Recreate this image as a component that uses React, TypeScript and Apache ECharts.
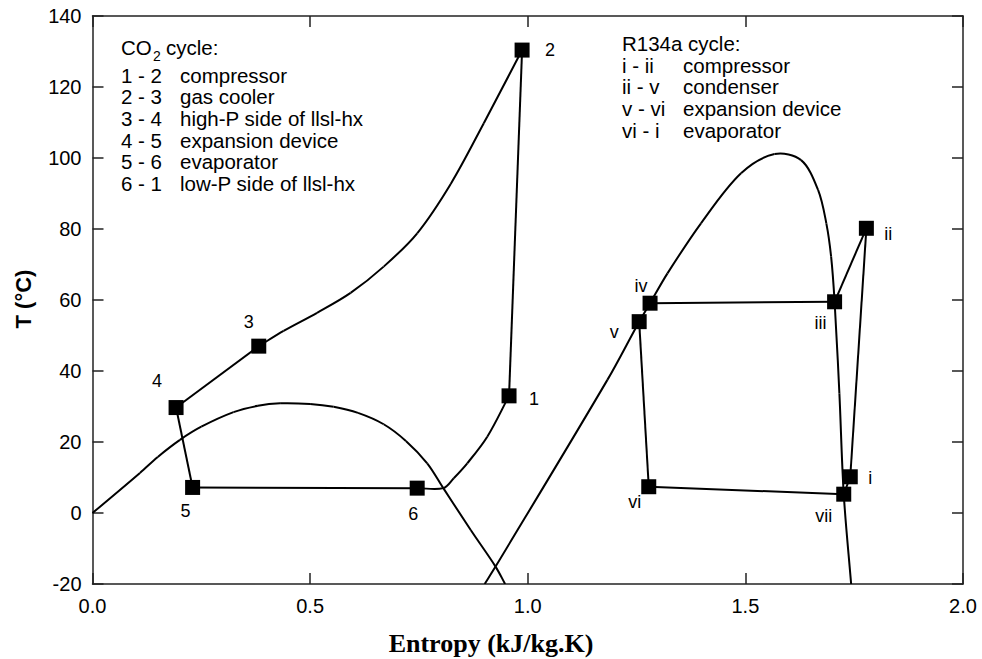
import React, { useEffect, useRef } from "react";
import * as echarts from "echarts";

// ---------- data (entropy kJ/kg.K, temperature °C) ----------
const xTicks = [0, 0.5, 1.0, 1.5, 2.0];
const yTicks = [-20, 0, 20, 40, 60, 80, 100, 120, 140];

// CO2 saturation dome
const co2Dome: number[][] = [
  [0, 0], [0.109, 11.3], [0.15, 15.8], [0.201, 20.6], [0.25, 24.3], [0.324, 28.4], [0.38, 30.2],
  [0.431, 30.9], [0.5, 30.7], [0.554, 29.9], [0.61, 28.2], [0.669, 25.0], [0.72, 20.3],
  [0.769, 14.0], [0.806, 7.0], [0.869, -4.8], [0.926, -15.1], [0.948, -20],
];
// CO2 cycle paths
const co2GasCooler: number[][] = [
  [0.987, 130.4], [0.899, 109.8], [0.823, 92.7], [0.746, 78.8], [0.669, 69.4],
  [0.593, 62.0], [0.516, 56.4], [0.439, 51.3], [0.382, 47.0],
];
const co2HighPHx: number[][] = [[0.382, 47.0], [0.192, 29.7]];
const co2Expansion: number[][] = [[0.192, 29.7], [0.230, 7.2]];
const co2Evaporator: number[][] = [[0.230, 7.2], [0.746, 7.0]];
const co2LowPHx: number[][] = [
  [0.746, 7.0], [0.806, 7.0], [0.830, 9.8], [0.861, 14.0], [0.907, 21.5], [0.957, 33.0],
];
const co2Compressor: number[][] = [[0.957, 33.0], [0.987, 130.4]];

const co2PointNames = ["1", "2", "3", "4", "5", "6"];
const co2PointS = [0.957, 0.987, 0.382, 0.192, 0.230, 0.746];
const co2PointT = [33.0, 130.4, 47.0, 29.7, 7.2, 7.0];

// R134a saturation dome
const r134aDome: number[][] = [
  [0.901, -20], [0.926, -15.1], [1.183, 37.5], [1.256, 53.9], [1.281, 59.1], [1.321, 67.5],
  [1.398, 81.6], [1.490, 95.7], [1.567, 101.1], [1.628, 99.4], [1.667, 91.0], [1.686, 81.6],
  [1.697, 72.2], [1.705, 59.5], [1.716, 33.7], [1.726, 5.3], [1.743, -20],
];
// R134a cycle paths
const r134aDesuper: number[][] = [[1.705, 59.5], [1.778, 80.2]];
const r134aCompressor: number[][] = [[1.778, 80.2], [1.741, 10.2]];
const r134aCondenser: number[][] = [[1.705, 59.5], [1.281, 59.1]];
const r134aExpansion: number[][] = [[1.256, 53.9], [1.278, 7.4]];
const r134aEvaporator: number[][] = [[1.278, 7.4], [1.726, 5.3]];
const r134aSuperheat: number[][] = [[1.726, 5.3], [1.741, 10.2]];

const r134aPointNames = ["i", "ii", "iii", "iv", "v", "vi", "vii"];
const r134aPointS = [1.741, 1.778, 1.705, 1.281, 1.256, 1.278, 1.726];
const r134aPointT = [10.2, 80.2, 59.5, 59.1, 53.9, 7.4, 5.3];

const co2LegendTitle = ["CO", "2", "cycle:"];
const co2LegendKeys = ["1 - 2", "2 - 3", "3 - 4", "4 - 5", "5 - 6", "6 - 1"];
const co2LegendText = [
  "compressor", "gas cooler", "high-P side of llsl-hx", "expansion device", "evaporator", "low-P side of llsl-hx",
];
const r134aLegendTitle = "R134a cycle:";
const r134aLegendKeys = ["i - ii", "ii - v", "v - vi", "vi - i"];
const r134aLegendText = ["compressor", "condenser", "expansion device", "evaporator"];

const xTitle = "Entropy (kJ/kg.K)";
const yTitle = "T (°C)";

// ---------- styling ----------
const labelOffsets: Record<string, number[]> = {
  "1": [25, 3], "2": [28, 0], "3": [-10, -24], "4": [-19, -27], "5": [-7, 24], "6": [-4, 26],
  i: [20, 1], ii: [22, 6], iii: [-14, 21], iv: [-9, -17], v: [-25, 10], vi: [-14, 15], vii: [-20, 22],
};
const SANS = "'Liberation Sans', Arial, Helvetica, sans-serif";
const SERIF = "'Liberation Serif', 'Times New Roman', serif";

export default function App() {
  const ref = useRef<HTMLDivElement>(null);
  useEffect(() => {
    if (!ref.current) return;
    const chart = echarts.init(ref.current, undefined, { renderer: "svg" });

    // smooth curve through the data points (chord-length cubic Hermite), drawn per segment
    const curveSeries = (data: number[][]) => ({
      type: "custom",
      data,
      clip: true,
      silent: true,
      z: 2,
      encode: { x: 0, y: 1 },
      renderItem: (params: any, api: any) => {
        const i = params.dataIndex;
        const n = data.length;
        if (i >= n - 1) return { type: "group", children: [] };
        const P = (k: number) => api.coord(data[Math.max(0, Math.min(n - 1, k))]);
        const dist = (a: number[], b: number[]) => Math.hypot(b[0] - a[0], b[1] - a[1]) || 1e-6;
        const tangent = (k: number) => {
          const prev = P(k - 1), cur = P(k), next = P(k + 1);
          if (k === 0) { const d = dist(cur, next); return [(next[0] - cur[0]) / d, (next[1] - cur[1]) / d]; }
          if (k === n - 1) { const d = dist(prev, cur); return [(cur[0] - prev[0]) / d, (cur[1] - prev[1]) / d]; }
          const d = dist(prev, cur) + dist(cur, next);
          return [(next[0] - prev[0]) / d, (next[1] - prev[1]) / d];
        };
        const a = P(i), b = P(i + 1);
        const d = dist(a, b);
        const ta = tangent(i), tb = tangent(i + 1);
        return {
          type: "bezierCurve",
          shape: {
            x1: a[0], y1: a[1], x2: b[0], y2: b[1],
            cpx1: a[0] + (ta[0] * d) / 3, cpy1: a[1] + (ta[1] * d) / 3,
            cpx2: b[0] - (tb[0] * d) / 3, cpy2: b[1] - (tb[1] * d) / 3,
          },
          style: { stroke: "#000", lineWidth: 2, fill: null },
        };
      },
    });
    const lineSeries = (data: number[][]) => ({
      type: "line",
      data,
      symbol: "none",
      clip: true,
      lineStyle: { color: "#000", width: 2 },
      silent: true,
      z: 2,
    });
    const pointSeries = (names: string[], s: number[], t: number[]) => ({
      type: "scatter",
      symbol: "rect",
      symbolSize: 15,
      itemStyle: { color: "#000", opacity: 1 },
      z: 3,
      silent: true,
      data: names.map((n, i) => ({
        name: n,
        value: [s[i], t[i]],
        label: {
          show: true,
          position: "inside",
          offset: labelOffsets[n],
          formatter: n,
          color: "#000",
          textBorderWidth: 0,
          textBorderColor: "transparent",
          fontSize: 18,
          fontFamily: SANS,
        },
      })),
    });

    const legendFont = { fontSize: 20.5, fontFamily: SANS, fill: "#000" };
    const graphics: any[] = [];
    // CO2 legend
    graphics.push({ type: "text", x: 121, y: 47, style: { text: co2LegendTitle[0], ...legendFont, verticalAlign: "middle" } });
    graphics.push({ type: "text", x: 153, y: 56, style: { text: co2LegendTitle[1], fontSize: 14, fontFamily: SANS, fill: "#000", verticalAlign: "middle" } });
    graphics.push({ type: "text", x: 166, y: 47, style: { text: co2LegendTitle[2], ...legendFont, verticalAlign: "middle" } });
    co2LegendKeys.forEach((k, i) => {
      const y = 75 + i * 21.7;
      graphics.push({ type: "text", x: 121, y, style: { text: k, ...legendFont, verticalAlign: "middle" } });
      graphics.push({ type: "text", x: 180, y, style: { text: co2LegendText[i], ...legendFont, verticalAlign: "middle" } });
    });
    // R134a legend
    graphics.push({ type: "text", x: 622, y: 43.5, style: { text: r134aLegendTitle, ...legendFont, verticalAlign: "middle" } });
    r134aLegendKeys.forEach((k, i) => {
      const y = 65 + i * 21.7;
      graphics.push({ type: "text", x: 622, y, style: { text: k, ...legendFont, verticalAlign: "middle" } });
      graphics.push({ type: "text", x: 683, y, style: { text: r134aLegendText[i], ...legendFont, verticalAlign: "middle" } });
    });
    // axis titles
    graphics.push({
      type: "text", x: 491, y: 643,
      style: { text: xTitle, fontSize: 26, fontWeight: "bold", fontFamily: SERIF, fill: "#000", align: "center", verticalAlign: "middle" },
    });
    graphics.push({
      type: "text", x: 23, y: 299, rotation: Math.PI / 2,
      style: { text: yTitle, fontSize: 22, fontWeight: "bold", fontFamily: SANS, fill: "#000", align: "center", verticalAlign: "middle" },
    });

    const axisCommon = {
      type: "value",
      axisLine: { show: true, onZero: false, lineStyle: { color: "#222", width: 1.5 } },
      axisTick: { show: true, inside: true, length: 11, lineStyle: { color: "#222", width: 1.5 } },
      splitLine: { show: false },
    };

    chart.setOption({
      animation: false,
      backgroundColor: "#fff",
      grid: { left: 92.5, right: 19, top: 16, bottom: 75, containLabel: false },
      xAxis: [
        {
          ...axisCommon, position: "bottom", min: xTicks[0], max: xTicks[xTicks.length - 1], interval: 0.5,
          axisLabel: { show: true, margin: 12, color: "#000", fontSize: 20, fontFamily: SANS, formatter: (v: number) => v.toFixed(1) },
        },
        {
          ...axisCommon, position: "top", min: xTicks[0], max: xTicks[xTicks.length - 1], interval: 0.5,
          axisLabel: { show: false },
        },
      ],
      yAxis: [
        {
          ...axisCommon, position: "left", min: yTicks[0], max: yTicks[yTicks.length - 1], interval: 20,
          axisLabel: { show: true, margin: 11, color: "#000", fontSize: 20, fontFamily: SANS },
        },
        {
          ...axisCommon, position: "right", min: yTicks[0], max: yTicks[yTicks.length - 1], interval: 20,
          axisLabel: { show: false },
        },
      ],
      series: [
        curveSeries(co2Dome),
        curveSeries(co2GasCooler),
        lineSeries(co2HighPHx),
        lineSeries(co2Expansion),
        lineSeries(co2Evaporator),
        curveSeries(co2LowPHx),
        lineSeries(co2Compressor),
        curveSeries(r134aDome),
        lineSeries(r134aDesuper),
        lineSeries(r134aCompressor),
        lineSeries(r134aCondenser),
        lineSeries(r134aExpansion),
        lineSeries(r134aEvaporator),
        lineSeries(r134aSuperheat),
        pointSeries(co2PointNames, co2PointS, co2PointT),
        pointSeries(r134aPointNames, r134aPointS, r134aPointT),
      ],
      graphic: graphics,
    });
    return () => chart.dispose();
  }, []);

  return <div ref={ref} style={{ width: 982, height: 659, position: "absolute", left: 0, top: 0 }} />;
}
